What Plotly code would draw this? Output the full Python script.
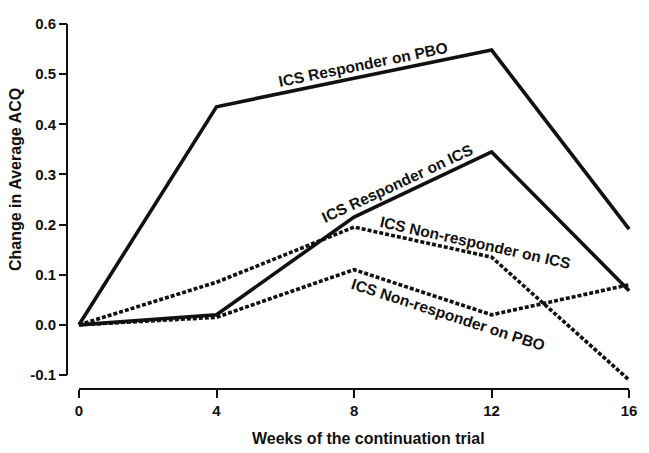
import plotly.graph_objects as go

# ---- data ----
weeks = [0, 4, 8, 12, 16]
resp_pbo = [0.0, 0.435, 0.492, 0.548, 0.191]
resp_ics = [0.0, 0.020, 0.215, 0.345, 0.068]
nonresp_ics = [0.0, 0.085, 0.195, 0.135, -0.110]
nonresp_pbo = [0.0, 0.015, 0.110, 0.020, 0.080]

y_ticks = [-0.1, 0.0, 0.1, 0.2, 0.3, 0.4, 0.5, 0.6]
y_tick_text = ["-0.1", "0.0", "0.1", "0.2", "0.3", "0.4", "0.5", "0.6"]
x_ticks = [0, 4, 8, 12, 16]
x_tick_text = ["0", "4", "8", "12", "16"]

series_labels = [
    ("ICS Responder on PBO", 8.26, 0.519, -11.5),
    ("ICS Responder on ICS", 9.25, 0.282, -25),
    ("ICS Non-responder on ICS", 11.52, 0.164, 12.5),
    ("ICS Non-responder on PBO", 10.73, 0.020, 18),
]

W, H = 649, 453
ML, MR, MT, MB = 60, 13, 10, 58
PW = W - ML - MR
PH = H - MT - MB

def px(xp):
    return (xp - ML) / PW

def py(yp):
    return (H - MB - yp) / PH

FONT = "Liberation Sans, Arial, Helvetica, sans-serif"
INK = "#111111"

fig = go.Figure()
for vals, dash in [(resp_pbo, "solid"), (resp_ics, "solid"),
                   (nonresp_ics, "4px,2px"), (nonresp_pbo, "4px,2px")]:
    fig.add_trace(go.Scatter(x=weeks, y=vals, mode="lines",
                             line=dict(color=INK, width=3.6, dash=dash),
                             showlegend=False, hoverinfo="skip"))

for text, xv, yv, ang in series_labels:
    fig.add_annotation(x=xv, y=yv, xref="x", yref="y", text=text,
                       showarrow=False, textangle=ang,
                       font=dict(family=FONT, size=15.5, color=INK, weight="bold"),
                       xanchor="center", yanchor="middle")

yaxis_pos = px(67)
xaxis_pos = py(389)

fig.update_layout(
    width=W, height=H,
    margin=dict(l=ML, r=MR, t=MT, b=MB),
    paper_bgcolor="white", plot_bgcolor="white",
    xaxis=dict(range=[-0.2, 16.2], domain=[px(72.1), 1], anchor="free",
               position=xaxis_pos, showline=False, showgrid=False,
               zeroline=False, tickmode="array", tickvals=x_ticks,
               ticktext=x_tick_text, ticks="outside", ticklen=8,
               tickwidth=2, tickcolor=INK,
               tickfont=dict(family=FONT, size=15, color=INK, weight="bold")),
    yaxis=dict(range=[-0.125, 0.62], domain=[py(387.5), py(14)], anchor="free",
               position=yaxis_pos, showline=False, showgrid=False,
               zeroline=False, tickmode="array", tickvals=y_ticks,
               ticktext=y_tick_text, ticks="outside", ticklen=8,
               tickwidth=2, tickcolor=INK,
               tickfont=dict(family=FONT, size=15, color=INK, weight="bold")),
)

# offset axis lines (Prism style)
fig.add_shape(type="line", xref="paper", yref="y", x0=yaxis_pos, x1=yaxis_pos,
              y0=y_ticks[0], y1=y_ticks[-1], line=dict(color=INK, width=2))
fig.add_shape(type="line", xref="x", yref="paper", x0=x_ticks[0], x1=x_ticks[-1],
              y0=xaxis_pos, y1=xaxis_pos, line=dict(color=INK, width=2))

fig.add_annotation(x=px(368), y=py(438), xref="paper", yref="paper",
                   text="Weeks of the continuation trial", showarrow=False,
                   font=dict(family=FONT, size=16, color=INK, weight="bold"),
                   xanchor="center", yanchor="middle")
fig.add_annotation(x=px(15), y=py(180), xref="paper", yref="paper",
                   text="Change in Average ACQ", showarrow=False, textangle=-90,
                   font=dict(family=FONT, size=16, color=INK, weight="bold"),
                   xanchor="center", yanchor="middle")

fig.write_html("out.html",
               config={"displayModeBar": False},
               post_script="document.body.style.margin='0';"
                           "document.body.style.overflow='hidden';")
